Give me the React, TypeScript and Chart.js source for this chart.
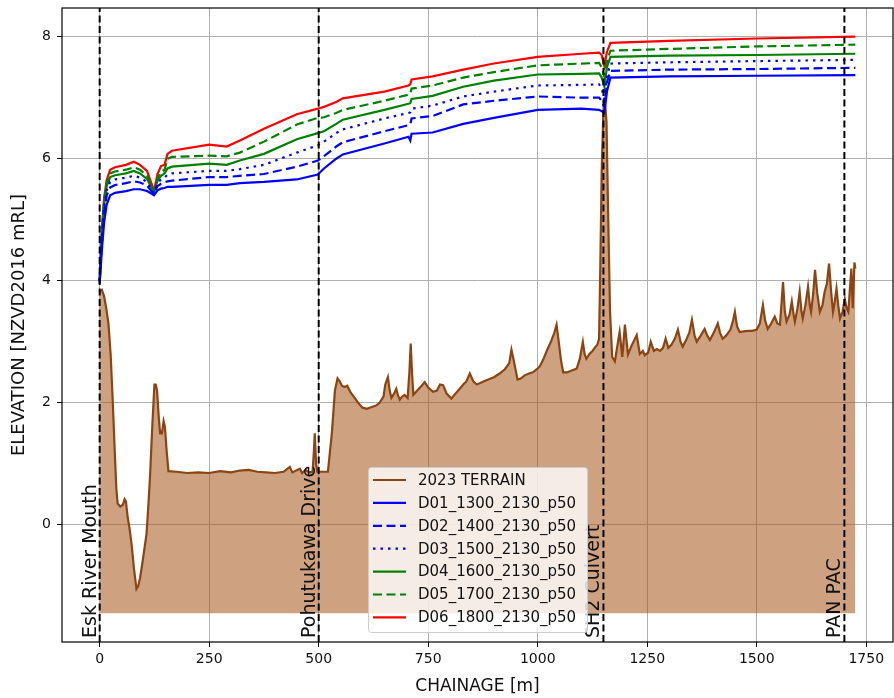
import React, { useEffect, useRef } from 'react';
import { Chart, registerables } from 'chart.js';

Chart.register(...registerables);

const FONT = '"DejaVu Sans", "Noto Sans", sans-serif';

const X_TICKS = [0, 250, 500, 750, 1000, 1250, 1500, 1750];
const Y_TICKS = [0, 2, 4, 6, 8];
const X_MIN = -86;
const X_MAX = 1811;
const Y_MIN = -1.92;
const Y_MAX = 8.47;
const FILL_BASE = -1.45;

const TERRAIN_CH = [
  0, 5, 10, 15, 20, 25, 30, 35, 38, 41, 47, 53, 57, 60, 64, 68, 73, 78, 84, 88, 92, 97, 102, 107, 111, 115, 120, 125, 128, 131,
  135, 138, 142, 146, 149, 153, 157, 175, 200, 225, 250, 275, 300, 320, 340, 360, 380, 400, 420, 434, 440, 457, 462, 470, 478, 486,
  489, 491, 494, 497, 521, 530, 537, 543, 548, 553, 559, 565, 572, 580, 590, 600, 610, 621, 630, 639, 648, 652, 658, 662, 666, 672,
  677, 681, 685, 690, 696, 703, 707, 710, 713, 716, 725, 735, 742, 750, 761, 770, 777, 784, 792, 803, 812, 822, 830, 837, 845, 853,
  861, 870, 880, 890, 900, 913, 925, 935, 940, 945, 954, 962, 970, 980, 989, 998, 1005, 1012, 1020, 1030, 1038, 1043, 1048, 1053,
  1058, 1067, 1075, 1082, 1089, 1096, 1103, 1107, 1111, 1118, 1125, 1130, 1136, 1140, 1143, 1146, 1150, 1153, 1157, 1161, 1165,
  1170, 1176, 1181, 1187, 1193, 1199, 1206, 1215, 1222, 1226, 1233, 1240, 1244, 1252, 1258, 1265, 1272, 1279, 1286, 1292, 1298,
  1305, 1313, 1320, 1326, 1331, 1340, 1346, 1352, 1358, 1363, 1372, 1381, 1387, 1393, 1402, 1411, 1416, 1422, 1430, 1440, 1446,
  1450, 1455, 1461, 1470, 1480, 1490, 1500, 1507, 1514, 1519, 1525, 1533, 1541, 1547, 1553, 1560, 1564, 1568, 1575, 1580, 1584,
  1587, 1593, 1598, 1602, 1605, 1611, 1617, 1621, 1624, 1629, 1633, 1638, 1644, 1650, 1655, 1660, 1665, 1670, 1674, 1678, 1682,
  1686, 1690, 1696, 1701, 1705, 1709, 1712, 1716, 1719, 1723, 1725,
];
const TERRAIN_EL = [
  3.82, 3.85, 3.75, 3.55, 3.3, 2.8, 2.0, 1.1, 0.6, 0.35, 0.3, 0.33, 0.42, 0.38, 0.12, -0.05, -0.33, -0.7, -1.05, -1.0, -0.88, -0.65, -0.4, -0.15, 0.3, 0.8, 1.6, 2.3, 2.3, 2.2,
  1.75, 1.5, 1.5, 1.7, 1.6, 1.2, 0.88, 0.87, 0.85, 0.86, 0.85, 0.88, 0.86, 0.89, 0.9, 0.87, 0.86, 0.85, 0.87, 0.95, 0.86, 0.92, 0.85, 0.9, 0.86, 0.87,
  1.2, 1.5, 1.0, 0.87, 0.87, 1.5, 2.2, 2.4, 2.35, 2.28, 2.26, 2.28, 2.18, 2.1, 2.0, 1.92, 1.9, 1.93, 1.95, 2.0, 2.1, 2.3, 2.42, 2.2, 2.08, 2.15,
  2.23, 2.12, 2.05, 2.1, 2.13, 2.08, 2.5, 2.97, 2.5, 2.13, 2.2, 2.28, 2.34, 2.25, 2.18, 2.2, 2.3, 2.29, 2.15, 2.07, 2.15, 2.23, 2.3, 2.35, 2.48, 2.35,
  2.3, 2.33, 2.36, 2.39, 2.42, 2.48, 2.55, 2.65, 2.87, 2.7, 2.38, 2.4, 2.45, 2.48, 2.5, 2.55, 2.6, 2.7, 2.84, 3.0, 3.15, 3.28, 3.0, 2.7,
  2.5, 2.5, 2.52, 2.54, 2.56, 2.72, 3.0, 2.8, 2.72, 2.8, 2.85, 2.9, 2.95, 3.05, 4.3, 5.8, 6.8, 6.98, 6.6, 5.0, 3.5,
  2.75, 2.68, 2.9, 3.16, 2.75, 3.28, 2.79, 2.95, 3.05, 3.11, 2.8, 2.85, 2.78, 2.82, 3.0, 2.85, 2.88, 2.85, 2.9, 3.05, 2.9,
  2.95, 3.05, 3.2, 3.0, 2.92, 3.05, 3.15, 3.36, 3.1, 3.0, 3.1, 3.21, 3.1, 3.03, 3.15, 3.3, 3.15, 3.05, 3.1, 3.2, 3.35,
  3.49, 3.25, 3.16, 3.17, 3.18, 3.18, 3.2, 3.3, 3.6, 3.35, 3.21, 3.3, 3.41, 3.3, 3.28, 3.98, 3.5, 3.33, 3.45, 3.66, 3.45,
  3.33, 3.55, 3.82, 3.5, 3.38, 3.6, 3.9, 3.6, 3.49, 3.8, 4.18, 3.8, 3.49, 3.6, 3.82, 3.95, 4.28, 3.8, 3.49, 3.65, 3.87,
  3.6, 3.38, 3.5, 3.7, 3.55, 3.49, 3.8, 4.2, 3.55, 4.3, 4.2,
];

const FLOOD_CH = [
  0, 5, 10, 16, 24, 35, 60, 78, 92, 108, 118, 124, 132, 140, 148, 155, 165, 250, 290, 320, 375, 450, 498, 512, 540, 555,
  650, 705, 709, 712, 760, 830, 900, 1000, 1100, 1140, 1146, 1152, 1158, 1166, 1300, 1500, 1725,
];
const D01 = [
  3.95, 4.5, 4.95, 5.25, 5.4, 5.44, 5.47, 5.5, 5.5, 5.47, 5.43, 5.4, 5.48, 5.51, 5.52, 5.54, 5.54, 5.57, 5.57, 5.6, 5.62, 5.66, 5.74, 5.84, 6.0, 6.07,
  6.25, 6.36, 6.3, 6.41, 6.43, 6.57, 6.67, 6.8, 6.82, 6.8, 6.78, 6.75, 7.1, 7.33, 7.35, 7.36, 7.37,
];
const D02 = [
  3.98, 4.6, 5.1, 5.4, 5.53, 5.57, 5.6, 5.63, 5.61, 5.56, 5.47, 5.43, 5.55, 5.59, 5.61, 5.63, 5.64, 5.7, 5.7, 5.72, 5.75, 5.87, 5.97, 6.04, 6.2, 6.27,
  6.45, 6.55, 6.56, 6.66, 6.7, 6.89, 6.95, 7.02, 7.0, 7.0, 6.95, 6.85, 7.25, 7.44, 7.46, 7.47, 7.49,
];
const D03 = [
  4.0, 4.7, 5.2, 5.48, 5.62, 5.66, 5.69, 5.72, 5.69, 5.62, 5.5, 5.44, 5.6, 5.66, 5.69, 5.74, 5.76, 5.8, 5.8, 5.83, 5.9, 6.1, 6.22, 6.28, 6.42, 6.48,
  6.66, 6.75, 6.76, 6.82, 6.87, 7.02, 7.1, 7.2, 7.21, 7.22, 7.15, 6.98, 7.35, 7.56, 7.58, 7.6, 7.62,
];
const D04 = [
  4.0, 4.75, 5.25, 5.55, 5.7, 5.73, 5.76, 5.8, 5.76, 5.67, 5.53, 5.45, 5.64, 5.72, 5.76, 5.84, 5.87, 5.92, 5.9, 5.97, 6.08, 6.32, 6.42, 6.45, 6.57, 6.64,
  6.8, 6.9, 6.91, 6.98, 7.03, 7.18, 7.28, 7.38, 7.39, 7.4, 7.33, 7.18, 7.5, 7.67, 7.69, 7.7, 7.72,
];
const D05 = [
  4.0, 4.8, 5.3, 5.6, 5.76, 5.79, 5.82, 5.86, 5.82, 5.72, 5.56, 5.46, 5.68, 5.78, 5.82, 6.0, 6.03, 6.05, 6.04, 6.1, 6.28, 6.56, 6.67, 6.68, 6.75, 6.8,
  6.95, 7.05, 7.06, 7.15, 7.2, 7.33, 7.42, 7.53, 7.56, 7.57, 7.5, 7.35, 7.6, 7.77, 7.8, 7.84, 7.87,
];
const D06 = [
  4.0, 4.85, 5.35, 5.65, 5.82, 5.86, 5.9, 5.95, 5.9, 5.8, 5.6, 5.47, 5.75, 5.88, 5.9, 6.08, 6.13, 6.23, 6.2, 6.3, 6.49, 6.73, 6.82, 6.85, 6.93, 6.99,
  7.1, 7.2, 7.22, 7.3, 7.35, 7.46, 7.56, 7.67, 7.72, 7.74, 7.7, 7.52, 7.75, 7.9, 7.93, 7.97, 8.0,
];

const FLOOD_SERIES = [
  { label: 'D01_1300_2130_p50', values: D01, color: '#0000ff', dash: [] as number[] },
  { label: 'D02_1400_2130_p50', values: D02, color: '#0000ff', dash: [9, 4.5] },
  { label: 'D03_1500_2130_p50', values: D03, color: '#0000ff', dash: [2.5, 5] },
  { label: 'D04_1600_2130_p50', values: D04, color: '#008000', dash: [] as number[] },
  { label: 'D05_1700_2130_p50', values: D05, color: '#008000', dash: [9, 4.5] },
  { label: 'D06_1800_2130_p50', values: D06, color: '#ff0000', dash: [] as number[] },
];

const LOCATION_CH = [0, 500, 1150, 1700];
const LOCATION_NAMES = ['Esk River Mouth', 'Pohutukawa Drive', 'SH2 Culvert', 'PAN PAC'];

const overlayPlugin = {
  id: 'overlay',
  afterDatasetsDraw(chart: any) {
    const { ctx, chartArea, scales } = chart;
    const x = scales.x;
    ctx.save();
    ctx.font = `19px ${FONT}`;
    ctx.fillStyle = '#111';
    ctx.textAlign = 'left';
    ctx.textBaseline = 'alphabetic';
    LOCATION_CH.forEach((c, i) => {
      const px = x.getPixelForValue(c);
      ctx.save();
      ctx.translate(px - 4, chartArea.bottom - 4);
      ctx.rotate(-Math.PI / 2);
      ctx.fillText(LOCATION_NAMES[i], 0, 0);
      ctx.restore();
    });
    ctx.strokeStyle = '#000';
    ctx.lineWidth = 1.2;
    ctx.strokeRect(chartArea.left, chartArea.top, chartArea.right - chartArea.left, chartArea.bottom - chartArea.top);
    ctx.restore();
  },
  afterDraw(chart: any) {
    const { ctx } = chart;
    const items = chart.data.datasets.filter((d: any) => d.inLegend);
    items.sort((a: any, b: any) => a.legendIndex - b.legendIndex);
    const bx = 368, by = 467, bw = 219, bh = 165;
    ctx.save();
    ctx.fillStyle = 'rgba(255,255,255,0.8)';
    ctx.strokeStyle = '#cccccc';
    ctx.lineWidth = 1;
    ctx.beginPath();
    if (ctx.roundRect) ctx.roundRect(bx + 0.5, by + 0.5, bw, bh, 3);
    else ctx.rect(bx + 0.5, by + 0.5, bw, bh);
    ctx.fill();
    ctx.stroke();
    ctx.font = `15px ${FONT}`;
    ctx.textBaseline = 'middle';
    ctx.textAlign = 'left';
    items.forEach((d: any, i: number) => {
      const cy = by + 13 + i * 22.9;
      ctx.strokeStyle = d.borderColor;
      ctx.lineWidth = d.borderWidth;
      ctx.setLineDash(d.borderDash || []);
      ctx.beginPath();
      ctx.moveTo(bx + 5, cy);
      ctx.lineTo(bx + 38, cy);
      ctx.stroke();
      ctx.setLineDash([]);
      ctx.fillStyle = '#111';
      ctx.fillText(d.label, bx + 50, cy + 1);
    });
    ctx.restore();
  },
};

export default function App() {
  const canvasRef = useRef<HTMLCanvasElement | null>(null);

  useEffect(() => {
    document.body.style.margin = '0';
    const canvas = canvasRef.current;
    if (!canvas) return;

    const terrain = {
      label: '2023 TERRAIN',
      data: TERRAIN_CH.map((c, i) => ({ x: c, y: TERRAIN_EL[i] })),
      borderColor: '#8b4513',
      borderWidth: 2.2,
      backgroundColor: 'rgba(165,85,25,0.55)',
      fill: { value: FILL_BASE },
      pointRadius: 0,
      order: 3,
      inLegend: true,
      legendIndex: 0,
    };

    const floods = FLOOD_SERIES.map((s, k) => ({
      label: s.label,
      data: FLOOD_CH.map((c, i) => ({ x: c, y: s.values[i] })),
      borderColor: s.color,
      backgroundColor: s.color,
      borderWidth: 2.2,
      borderDash: s.dash,
      fill: false,
      pointRadius: 0,
      order: 2,
      inLegend: true,
      legendIndex: k + 1,
    }));

    const markers = LOCATION_CH.map((c, i) => ({
      label: LOCATION_NAMES[i],
      data: [
        { x: c, y: Y_MIN },
        { x: c, y: Y_MAX },
      ],
      borderColor: '#000',
      borderWidth: 2,
      borderDash: [7, 3.5],
      fill: false,
      pointRadius: 0,
      order: 1,
      inLegend: false,
    }));

    const chart = new Chart(canvas, {
      type: 'line',
      data: { datasets: [terrain, ...floods, ...markers] as any },
      options: {
        responsive: false,
        animation: false,
        layout: { padding: { top: 8, right: 1, left: 0, bottom: 0 } },
        plugins: { legend: { display: false }, tooltip: { enabled: false } },
        elements: { point: { radius: 0 }, line: { tension: 0 } },
        scales: {
          x: {
            type: 'linear',
            min: X_MIN,
            max: X_MAX,
            afterBuildTicks: (s: any) => {
              s.ticks = X_TICKS.map((v) => ({ value: v }));
            },
            afterFit: (s: any) => {
              s.height = 56;
              s.paddingLeft = 0;
              s.paddingRight = 0;
            },
            grid: { color: '#b0b0b0', lineWidth: 1, tickColor: '#000', tickLength: 5, drawTicks: true },
            border: { display: false },
            ticks: {
              font: { family: FONT, size: 14 },
              color: '#111',
              padding: 4,
              maxRotation: 0,
              autoSkip: false,
              callback: (v: any) => String(v),
            },
            title: {
              display: true,
              text: 'CHAINAGE [m]',
              font: { family: FONT, size: 17 },
              color: '#111',
              padding: { top: 0, bottom: 1 },
            },
          },
          y: {
            type: 'linear',
            min: Y_MIN,
            max: Y_MAX,
            afterBuildTicks: (s: any) => {
              s.ticks = Y_TICKS.map((v) => ({ value: v }));
            },
            afterFit: (s: any) => {
              s.width = 62;
              s.paddingTop = 0;
              s.paddingBottom = 0;
            },
            grid: { color: '#b0b0b0', lineWidth: 1, tickColor: '#000', tickLength: 5, drawTicks: true },
            border: { display: false },
            ticks: {
              font: { family: FONT, size: 14 },
              color: '#111',
              padding: 6,
              autoSkip: false,
              callback: (v: any) => String(v),
            },
            title: {
              display: true,
              text: 'ELEVATION [NZVD2016 mRL]',
              font: { family: FONT, size: 18 },
              color: '#111',
              padding: { top: 9, bottom: 0 },
            },
          },
        },
      } as any,
      plugins: [overlayPlugin],
    });

    return () => chart.destroy();
  }, []);

  return (
    <div style={{ width: 894, height: 698 }}>
      <canvas ref={canvasRef} width={894} height={698} style={{ display: 'block' }} />
    </div>
  );
}
